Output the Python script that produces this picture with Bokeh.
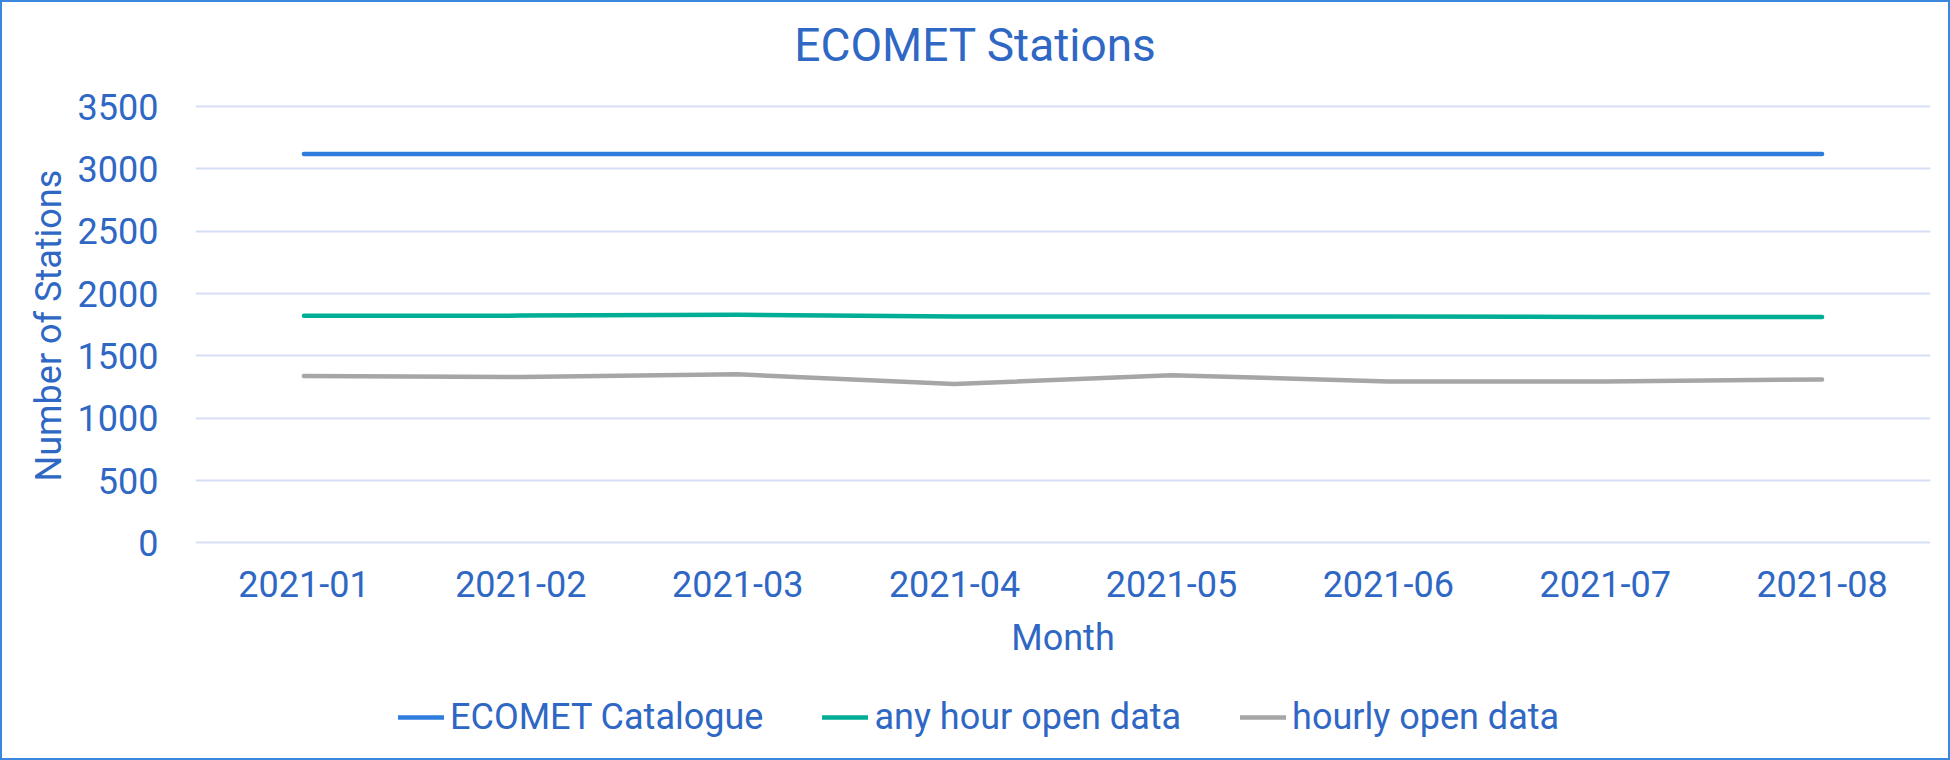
from bokeh.plotting import figure
from bokeh.models import Legend, LegendItem, Range1d, FactorRange, Label, Title
from bokeh.embed import file_html
from bokeh.resources import INLINE

months = ["2021-01", "2021-02", "2021-03", "2021-04", "2021-05", "2021-06", "2021-07", "2021-08"]
ecomet_catalogue = [3120, 3120, 3120, 3120, 3120, 3120, 3120, 3120]
any_hour_open = [1822, 1823, 1830, 1815, 1815, 1815, 1812, 1812]
hourly_open = [1339, 1331, 1352, 1274, 1345, 1295, 1295, 1311]
y_ticks = [0, 500, 1000, 1500, 2000, 2500, 3000, 3500]

TEXT = "#2f67c4"
FONT = "Roboto"

# frame spans the full height so that title/legend (drawn inside it) are not clipped;
# the data area (0..3500) maps to page y 543..109 as in the reference
p = figure(width=1950, height=760, x_range=FactorRange(*months), y_range=Range1d(-1762, 4335),
           output_backend="svg", toolbar_location=None,
           min_border_left=193, min_border_right=22, min_border_top=0, min_border_bottom=0)
p.x_range.range_padding = 0.0

p.outline_line_color = None
p.xgrid.grid_line_color = None
p.ygrid.grid_line_color = "#d6dff3"
p.ygrid.grid_line_width = 2
p.yaxis.ticker = y_ticks
p.xaxis.fixed_location = 0

for ax in (p.xaxis[0], p.yaxis[0]):
    ax.axis_line_color = None
    ax.major_tick_line_color = None
    ax.minor_tick_line_color = None
    ax.major_label_text_font = FONT
    ax.major_label_text_font_size = "36px"
    ax.major_label_text_color = TEXT
    ax.axis_label_text_font = FONT
    ax.axis_label_text_font_size = "36px"
    ax.axis_label_text_font_style = "normal"
    ax.axis_label_text_color = TEXT

p.xaxis.axis_label = "Month"
p.yaxis.major_label_standoff = 31
p.xaxis.major_label_standoff = 22
p.xaxis.axis_label_standoff = 17

ytitle = Title(text="Number of Stations", align="left", offset=281, text_font=FONT,
               text_font_size="36px", text_font_style="normal", text_color=TEXT)
p.add_layout(ytitle, "left")

title = Label(x=780, y=718, x_units="screen", y_units="screen", text="ECOMET Stations",
              text_align="center", text_baseline="middle", text_font=FONT,
              text_font_size="46px", text_color=TEXT)
p.add_layout(title)

r1 = p.line(months, ecomet_catalogue, line_color="#2e7ddc", line_width=4.5, line_cap="round", line_join="round")
r2 = p.line(months, any_hour_open, line_color="#00ad95", line_width=4.5, line_cap="round", line_join="round")
r3 = p.line(months, hourly_open, line_color="#a6a6a6", line_width=4.5, line_cap="round", line_join="round")

legend = Legend(items=[LegendItem(label="ECOMET Catalogue", renderers=[r1]),
                       LegendItem(label="any hour open data", renderers=[r2]),
                       LegendItem(label="hourly open data", renderers=[r3])],
                orientation="horizontal", location=(203, 24),
                label_text_font=FONT, label_text_font_size="36px", label_text_color=TEXT,
                glyph_width=46, glyph_height=36, label_standoff=6, spacing=59,
                padding=0, margin=0, border_line_color=None, background_fill_alpha=0)
p.add_layout(legend, "center")

p.styles = {"border": "2px solid #3b87de", "box-sizing": "border-box"}

open("out.html", "w").write(file_html(p, INLINE))
